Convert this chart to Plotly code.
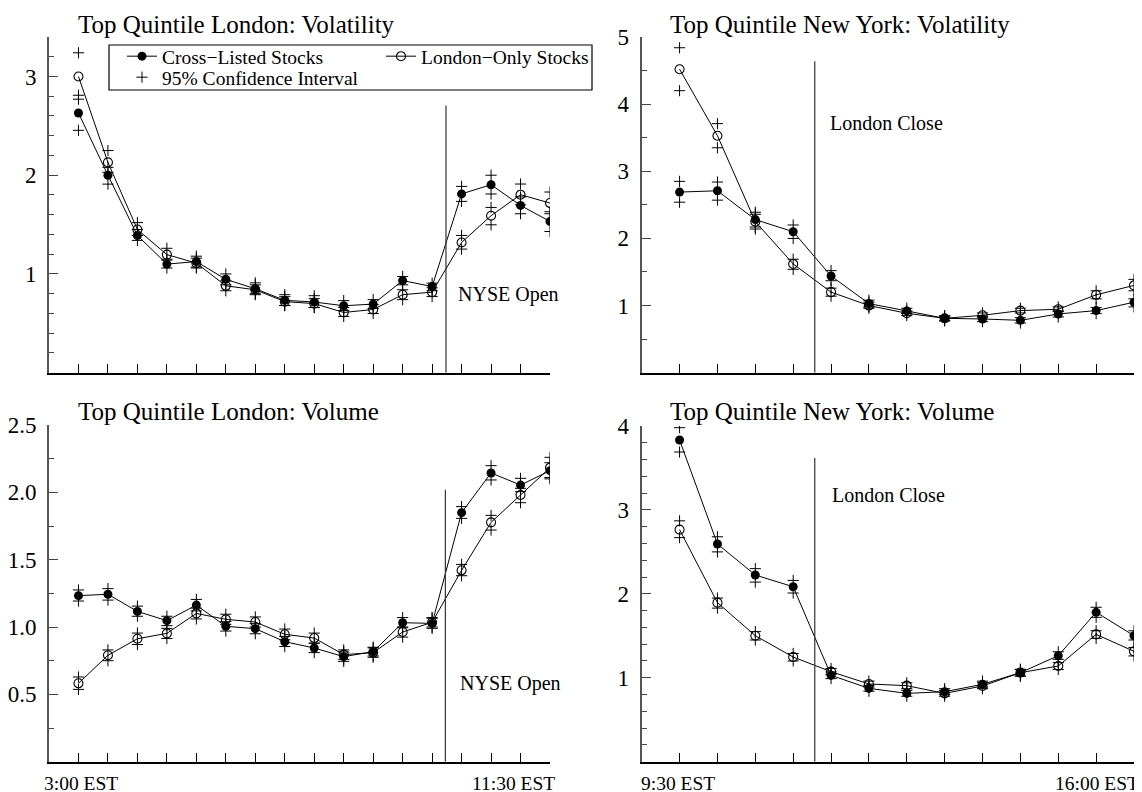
import plotly.graph_objects as go

FONT = "Liberation Serif"
W, H = 1142, 792
OFF = 8  # page body offset of the plot div (px)

# ---------------- data ----------------
ldn_idx = list(range(17))   # half-hour intervals 3:00 EST .. 11:30 EST
ny_idx = list(range(13))    # half-hour intervals 9:30 EST .. 16:00 EST

# Top Quintile London: Volatility
tl_cross = [2.63, 2.00, 1.39, 1.10, 1.125, 0.946, 0.85, 0.733, 0.716, 0.678, 0.695, 0.933, 0.873, 1.811, 1.904, 1.694, 1.532]
tl_cross_hi = [2.81, 2.08, 1.45, 1.15, 1.18, 1.00, 0.91, 0.79, 0.78, 0.73, 0.74, 0.974, 0.907, 1.887, 2.00, 1.78, 1.63]
tl_cross_lo = [2.455, 1.91, 1.34, 1.06, 1.07, 0.89, 0.80, 0.68, 0.66, 0.63, 0.65, 0.89, 0.83, 1.735, 1.81, 1.61, 1.43]
tl_lon = [3.00, 2.13, 1.45, 1.196, 1.11, 0.88, 0.84, 0.72, 0.70, 0.61, 0.64, 0.79, 0.816, 1.319, 1.59, 1.803, 1.718]
tl_lon_hi = [3.24, 2.25, 1.52, 1.26, 1.16, 0.93, 0.89, 0.77, 0.75, 0.66, 0.69, 0.84, 0.86, 1.39, 1.674, 1.911, 1.83]
tl_lon_lo = [2.77, 2.03, 1.39, 1.14, 1.06, 0.83, 0.79, 0.68, 0.66, 0.57, 0.60, 0.74, 0.771, 1.252, 1.498, 1.70, 1.61]

# Top Quintile New York: Volatility
tr_cross = [2.69, 2.71, 2.28, 2.10, 1.44, 1.03, 0.92, 0.81, 0.80, 0.78, 0.875, 0.925, 1.05]
tr_cross_hi = [2.85, 2.84, 2.39, 2.20, 1.52, 1.08, 0.96, 0.85, 0.84, 0.82, 0.92, 0.97, 1.10]
tr_cross_lo = [2.54, 2.57, 2.17, 2.00, 1.37, 0.98, 0.88, 0.77, 0.76, 0.74, 0.83, 0.88, 0.98]
tr_lon = [4.52, 3.53, 2.25, 1.62, 1.20, 1.00, 0.885, 0.81, 0.855, 0.925, 0.945, 1.16, 1.30]
tr_lon_hi = [4.84, 3.71, 2.36, 1.69, 1.26, 1.05, 0.92, 0.84, 0.89, 0.96, 0.98, 1.22, 1.39]
tr_lon_lo = [4.20, 3.35, 2.14, 1.54, 1.14, 0.96, 0.85, 0.78, 0.82, 0.89, 0.91, 1.10, 1.22]

# Top Quintile London: Volume
bl_cross = [1.233, 1.243, 1.116, 1.047, 1.163, 1.005, 0.988, 0.891, 0.844, 0.78, 0.817, 1.032, 1.027, 1.849, 2.144, 2.054, 2.161]
bl_cross_hi = [1.275, 1.285, 1.155, 1.08, 1.205, 1.04, 1.025, 0.93, 0.88, 0.815, 0.85, 1.07, 1.065, 1.894, 2.198, 2.104, 2.22]
bl_cross_lo = [1.193, 1.20, 1.08, 1.01, 1.12, 0.97, 0.95, 0.855, 0.81, 0.745, 0.785, 0.995, 0.99, 1.807, 2.092, 2.005, 2.10]
bl_lon = [0.582, 0.79, 0.913, 0.953, 1.101, 1.057, 1.037, 0.946, 0.918, 0.795, 0.81, 0.963, 1.035, 1.421, 1.777, 1.98, 2.183]
bl_lon_hi = [0.629, 0.83, 0.955, 0.99, 1.14, 1.095, 1.075, 0.985, 0.955, 0.83, 0.845, 1.0, 1.07, 1.465, 1.829, 2.03, 2.26]
bl_lon_lo = [0.537, 0.75, 0.87, 0.915, 1.06, 1.02, 1.0, 0.905, 0.88, 0.76, 0.775, 0.925, 1.0, 1.381, 1.72, 1.923, 2.11]

# Top Quintile New York: Volume
br_cross = [3.833, 2.594, 2.224, 2.085, 1.029, 0.874, 0.814, 0.834, 0.922, 1.061, 1.263, 1.78, 1.501]
br_cross_hi = [3.98, 2.68, 2.30, 2.16, 1.07, 0.91, 0.85, 0.87, 0.96, 1.10, 1.31, 1.84, 1.56]
br_cross_lo = [3.69, 2.50, 2.14, 2.01, 0.99, 0.84, 0.78, 0.80, 0.89, 1.02, 1.22, 1.72, 1.45]
br_lon = [2.765, 1.895, 1.501, 1.247, 1.073, 0.926, 0.906, 0.814, 0.902, 1.061, 1.14, 1.517, 1.315]
br_lon_hi = [2.87, 1.95, 1.55, 1.29, 1.11, 0.96, 0.94, 0.85, 0.94, 1.10, 1.18, 1.56, 1.36]
br_lon_lo = [2.67, 1.83, 1.45, 1.20, 1.04, 0.89, 0.87, 0.78, 0.87, 1.02, 1.10, 1.47, 1.26]

titles = ["Top Quintile London: Volatility", "Top Quintile New York: Volatility",
          "Top Quintile London: Volume", "Top Quintile New York: Volume"]
event_labels = ["NYSE Open", "London Close", "NYSE Open", "London Close"]
event_x = [12.47, 3.57, 12.45, 3.57]
event_top = [2.706, 4.64, 2.02, 3.62]
event_text_x = [12.81, 3.92, 12.87, 3.97]
event_text_y = [0.79, 3.72, 0.58, 3.18]
x_first_labels = ["3:00 EST", "9:30 EST"]
x_last_labels = ["11:30 EST", "16:00 EST"]
series_names = ["Cross\u2212Listed Stocks", "London\u2212Only Stocks", "95% Confidence Interval"]


# ---------------- layout geometry (screen px -> paper) ----------------
def fx(px):
    return (px - OFF) / W


def fy(py):
    return 1 - (py - OFF) / H


panels = [
    dict(ax="", idx=ldn_idx, c=tl_cross, ch=tl_cross_hi, cl=tl_cross_lo, l=tl_lon, lh=tl_lon_hi, ll=tl_lon_lo,
         xdom=[fx(49), fx(550)], ydom=[fy(372.7), fy(37)], yr=[0, 3.4], yt=[1, 2, 3], ytt=["1", "2", "3"],
         minor=0.2, tx=76, ty=24),
    dict(ax="2", idx=ny_idx, c=tr_cross, ch=tr_cross_hi, cl=tr_cross_lo, l=tr_lon, lh=tr_lon_hi, ll=tr_lon_lo,
         xdom=[fx(641.7), fx(1134)], ydom=[fy(372.7), fy(37)], yr=[0, 5], yt=[1, 2, 3, 4, 5],
         ytt=["1", "2", "3", "4", "5"], minor=0.5, tx=668, ty=24),
    dict(ax="3", idx=ldn_idx, c=bl_cross, ch=bl_cross_hi, cl=bl_cross_lo, l=bl_lon, lh=bl_lon_hi, ll=bl_lon_lo,
         xdom=[fx(49), fx(550)], ydom=[fy(761.7), fy(425)], yr=[0, 2.5], yt=[0.5, 1.0, 1.5, 2.0, 2.5],
         ytt=["0.5", "1.0", "1.5", "2.0", "2.5"], minor=0.25, tx=76, ty=412),
    dict(ax="4", idx=ny_idx, c=br_cross, ch=br_cross_hi, cl=br_cross_lo, l=br_lon, lh=br_lon_hi, ll=br_lon_lo,
         xdom=[fx(641.7), fx(1134)], ydom=[fy(761.7), fy(426)], yr=[0, 4], yt=[1, 2, 3, 4],
         ytt=["1", "2", "3", "4"], minor=0.2, tx=668, ty=412),
]

fig = go.Figure()
shapes = []
annotations = []
layout_axes = {}

for k, p in enumerate(panels):
    xa = "x" + p["ax"]
    ya = "y" + p["ax"]
    first = (k == 0)
    fig.add_trace(go.Scatter(
        x=p["idx"], y=p["c"], xaxis=xa, yaxis=ya, mode="lines+markers",
        name=series_names[0], showlegend=first, legend="legend",
        line=dict(color="black", width=1),
        marker=dict(symbol="circle", size=9, color="black"),
    ))
    fig.add_trace(go.Scatter(
        x=p["idx"], y=p["l"], xaxis=xa, yaxis=ya, mode="lines+markers",
        name=series_names[1], showlegend=first, legend="legend",
        line=dict(color="black", width=1),
        marker=dict(symbol="circle-open", size=9, color="black", line=dict(width=1.1, color="black")),
    ))
    ci_x = list(p["idx"]) * 4
    ci_y = list(p["ch"]) + list(p["cl"]) + list(p["lh"]) + list(p["ll"])
    fig.add_trace(go.Scatter(
        x=ci_x, y=ci_y, xaxis=xa, yaxis=ya, mode="markers",
        name=series_names[2], showlegend=first, legend="legend2",
        marker=dict(symbol="cross-thin", size=8, color="black", line=dict(width=1, color="black")),
    ))

    n_last = p["idx"][-1]
    xkey = "xaxis" + p["ax"]
    ykey = "yaxis" + p["ax"]
    layout_axes[xkey] = dict(
        domain=p["xdom"], anchor=ya, range=[-1, n_last], tickmode="array", tickvals=p["idx"],
        showticklabels=False, ticks="inside", ticklen=9, tickwidth=1, tickcolor="black",
        showline=True, linecolor="black", linewidth=1.5, showgrid=False, zeroline=False, fixedrange=True,
    )
    layout_axes[ykey] = dict(
        domain=p["ydom"], anchor=xa, range=p["yr"], tickmode="array", tickvals=p["yt"], ticktext=p["ytt"],
        ticks="inside", ticklen=9, tickwidth=1, tickcolor="#444",
        minor=dict(dtick=p["minor"], tick0=0, ticks="inside", ticklen=5, tickwidth=1, tickcolor="#444"),
        showline=True, linecolor="#555", linewidth=2, showgrid=False, zeroline=False,
        tickfont=dict(family=FONT, size=23, color="black"), ticklabelstandoff=6, fixedrange=True,
    )

    shapes.append(dict(type="line", xref=xa, yref=ya, x0=event_x[k], x1=event_x[k], y0=0, y1=event_top[k],
                       line=dict(color="#333", width=1.2)))
    annotations.append(dict(text=event_labels[k], xref=xa, yref=ya, x=event_text_x[k], y=event_text_y[k],
                            xanchor="left", yanchor="middle", showarrow=False,
                            font=dict(family=FONT, size=20, color="black")))
    annotations.append(dict(text=titles[k], xref="paper", yref="paper", x=fx(p["tx"]), y=fy(p["ty"]),
                            xanchor="left", yanchor="middle", showarrow=False,
                            font=dict(family=FONT, size=25, color="black")))

for j, ax in enumerate(["x3", "x4"]):
    n_last = panels[2 + j]["idx"][-1]
    annotations.append(dict(text=x_first_labels[j], xref=ax, yref="paper", x=0, y=fy(783),
                            xanchor="center", yanchor="middle", xshift=3 if j == 0 else -2, showarrow=False,
                            font=dict(family=FONT, size=19.5, color="black")))
    annotations.append(dict(text=x_last_labels[j], xref=ax, yref="paper", x=n_last, y=fy(783),
                            xanchor="right", yanchor="middle", xshift=7, showarrow=False,
                            font=dict(family=FONT, size=19.5, color="black")))

shapes.append(dict(type="rect", xref="paper", yref="paper", x0=fx(109), x1=fx(592),
                   y0=fy(90), y1=fy(45), line=dict(color="black", width=1.2), fillcolor="white",
                   layer="below"))

fig.update_layout(
    width=W, height=H, margin=dict(l=0, r=0, t=0, b=0, autoexpand=False),
    paper_bgcolor="white", plot_bgcolor="rgba(0,0,0,0)",
    font=dict(family=FONT, color="black"),
    showlegend=True,
    legend=dict(orientation="h", x=fx(122), xanchor="left", y=fy(37), yanchor="top",
                entrywidth=214, entrywidthmode="pixels", bgcolor="rgba(0,0,0,0)", borderwidth=0,
                font=dict(family=FONT, size=19.5, color="black"), itemwidth=30, tracegroupgap=0),
    legend2=dict(orientation="h", x=fx(122), xanchor="left", y=fy(58), yanchor="top",
                 bgcolor="rgba(0,0,0,0)", borderwidth=0,
                 font=dict(family=FONT, size=19.5, color="black"), itemwidth=30),
    shapes=shapes, annotations=annotations,
    **layout_axes,
)

fig.write_html("out.html")
